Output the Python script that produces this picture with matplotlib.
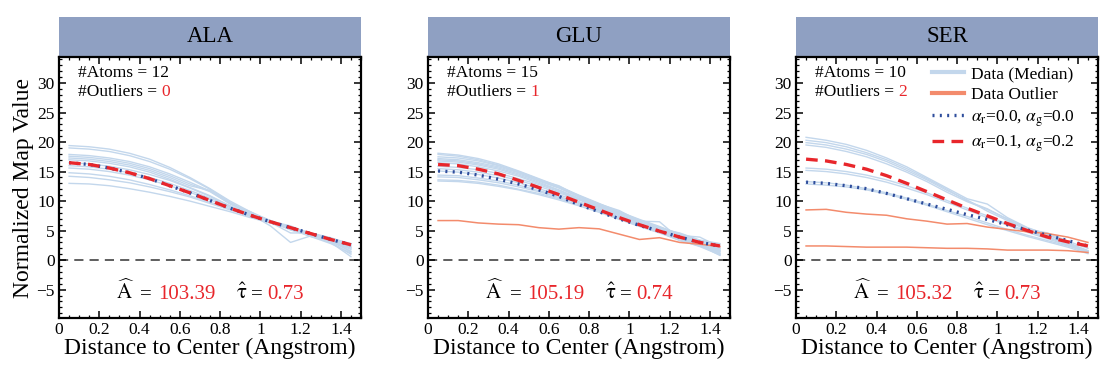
import numpy as np
import matplotlib
matplotlib.use('Agg')
import matplotlib.pyplot as plt
from matplotlib.patches import Rectangle
from matplotlib.offsetbox import TextArea, HPacker, AnchoredOffsetbox, DrawingArea
from matplotlib.ticker import MultipleLocator, FuncFormatter

plt.rcParams['font.family'] = ['Liberation Serif', 'DejaVu Serif']
plt.rcParams['mathtext.fontset'] = 'stix'

# distance to center, same grid for every residue
dist = [0.05, 0.15, 0.25, 0.35, 0.45, 0.55, 0.65, 0.75, 0.85, 0.95, 1.05, 1.15, 1.25, 1.35, 1.45]

residues = ['ALA', 'GLU', 'SER']
n_atoms = [12, 15, 10]
n_outliers = [0, 1, 2]
a_hat = ['103.39', '105.19', '105.32']
tau_hat = ['0.73', '0.74', '0.73']

ala_data = [
	[19.4, 19.2, 18.8, 18.1, 17.1, 15.7, 14.0, 12.1, 10.0, 8.2, 6.7, 5.4, 4.4, 3.3, 1.8],
	[19.0, 18.8, 18.4, 17.7, 16.7, 15.4, 13.8, 12.0, 9.8, 8.0, 6.5, 5.3, 4.3, 3.4, 2.0],
	[17.9, 17.7, 17.3, 16.7, 15.8, 14.6, 13.2, 11.7, 9.6, 7.9, 6.6, 5.6, 4.5, 3.6, 2.4],
	[17.6, 17.4, 17.0, 16.4, 15.5, 14.3, 12.9, 11.6, 9.5, 8.0, 6.7, 5.1, 4.2, 3.3, 1.5],
	[17.3, 17.1, 16.7, 16.1, 15.2, 14.0, 12.6, 11.8, 9.6, 8.2, 6.4, 4.6, 4.6, 3.6, 2.2],
	[17.0, 16.8, 16.4, 15.8, 14.9, 13.7, 12.3, 10.9, 9.2, 7.8, 6.3, 5.6, 4.6, 3.8, 2.6],
	[16.5, 16.3, 15.9, 15.3, 14.5, 13.5, 12.2, 10.8, 9.0, 7.8, 5.8, 3.0, 4.1, 3.0, 1.0],
	[16.0, 15.8, 15.4, 14.8, 14.0, 13.0, 11.8, 10.5, 9.1, 7.8, 6.7, 5.5, 4.0, 3.2, 1.4],
	[15.6, 15.4, 15.0, 14.4, 13.6, 12.6, 11.5, 10.2, 8.9, 7.6, 6.6, 5.8, 4.4, 3.7, 2.8],
	[14.8, 14.6, 14.2, 13.6, 12.8, 11.9, 10.9, 9.8, 8.7, 7.6, 6.6, 5.4, 4.1, 3.0, 0.6],
	[14.2, 14.0, 13.6, 13.1, 12.4, 11.6, 10.7, 9.6, 8.5, 7.4, 6.4, 5.6, 4.5, 3.5, 2.1],
	[13.0, 12.9, 12.6, 12.1, 11.5, 10.8, 10.0, 9.1, 8.2, 7.2, 6.3, 5.2, 4.0, 2.8, 1.2]]
ala_outl = []
ala_fit0 = [16.5, 16.2, 15.6, 14.8, 13.8, 12.6, 11.4, 10.1, 8.8, 7.6, 6.5, 5.5, 4.5, 3.5, 2.6]
ala_fit1 = [16.5, 16.2, 15.6, 14.8, 13.8, 12.6, 11.4, 10.1, 8.8, 7.6, 6.5, 5.5, 4.5, 3.5, 2.6]

glu_data = [
	[18.1, 17.8, 17.2, 16.3, 15.1, 13.8, 12.5, 11.0, 9.6, 8.2, 6.9, 5.7, 4.3, 3.0, 1.6],
	[17.9, 17.6, 17.0, 16.1, 15.0, 13.7, 12.4, 10.9, 9.5, 8.4, 6.6, 6.5, 3.6, 2.9, 1.9],
	[17.5, 17.3, 16.8, 16.0, 14.9, 13.6, 12.6, 10.8, 9.4, 8.0, 6.5, 5.4, 4.2, 3.9, 2.2],
	[17.2, 17.0, 16.5, 15.8, 14.8, 13.5, 12.3, 10.8, 9.5, 8.1, 6.8, 5.6, 4.5, 3.3, 2.5],
	[17.0, 16.8, 16.3, 15.6, 14.6, 13.4, 12.2, 10.7, 9.3, 7.7, 6.4, 5.3, 4.6, 3.4, 2.8],
	[16.8, 16.6, 16.1, 15.4, 14.4, 13.2, 11.9, 10.5, 9.2, 7.9, 6.7, 5.5, 4.3, 3.1, 1.4],
	[16.5, 16.3, 15.8, 15.1, 14.2, 13.0, 11.8, 10.4, 9.1, 7.6, 6.2, 5.2, 4.1, 3.2, 2.0],
	[15.9, 15.7, 15.3, 14.7, 13.8, 12.8, 11.6, 10.3, 9.0, 7.3, 6.0, 5.0, 3.8, 2.6, 1.0],
	[15.5, 15.3, 14.9, 14.3, 13.5, 12.5, 11.4, 10.2, 8.9, 7.5, 6.3, 5.4, 4.0, 2.9, 1.7],
	[15.1, 14.9, 14.5, 13.9, 13.1, 12.1, 11.1, 9.9, 8.7, 7.4, 6.2, 5.1, 3.7, 2.5, 0.8],
	[14.4, 14.3, 13.9, 13.4, 12.7, 11.8, 10.8, 9.7, 8.5, 7.2, 6.0, 4.9, 3.9, 2.8, 1.2],
	[14.1, 14.0, 13.6, 13.1, 12.4, 11.6, 10.6, 9.6, 8.4, 7.0, 5.8, 4.7, 3.3, 2.4, 1.5],
	[13.6, 13.5, 13.2, 12.7, 12.0, 11.3, 10.4, 9.4, 8.3, 7.1, 5.9, 4.8, 3.5, 2.6, 1.1],
	[13.4, 13.3, 13.0, 12.5, 11.9, 11.1, 10.2, 9.2, 8.1, 6.9, 5.7, 4.6, 3.4, 2.3, 0.9]]
glu_outl = [
	[6.7, 6.7, 6.3, 6.1, 6.0, 5.5, 5.25, 5.5, 5.3, 4.4, 3.5, 3.8, 3.0, 2.7, 2.3]]
glu_fit0 = [15.1, 14.9, 14.4, 13.7, 12.9, 11.9, 10.8, 9.4, 8.2, 7.0, 5.9, 4.9, 3.9, 3.0, 2.4]
glu_fit1 = [16.2, 16.0, 15.4, 14.6, 13.5, 12.3, 11.1, 9.8, 8.5, 7.2, 6.0, 4.9, 3.9, 3.0, 2.4]

ser_data = [
	[20.8, 20.3, 19.6, 18.6, 17.3, 15.8, 14.0, 12.2, 10.4, 9.5, 7.2, 5.5, 4.3, 2.8, 1.5],
	[20.3, 19.9, 19.2, 18.2, 17.0, 15.5, 13.8, 12.0, 10.0, 8.7, 6.9, 5.2, 4.6, 3.2, 2.0],
	[19.9, 19.5, 18.8, 17.9, 16.7, 15.2, 13.6, 11.8, 10.2, 8.3, 6.7, 5.0, 4.0, 2.6, 1.2],
	[19.5, 19.1, 18.4, 17.5, 16.3, 14.9, 13.3, 11.5, 9.9, 8.6, 7.0, 5.4, 4.4, 3.0, 1.6],
	[15.6, 15.4, 15.0, 14.4, 13.6, 12.6, 11.4, 10.1, 8.8, 7.5, 6.1, 4.9, 3.8, 2.7, 1.6],
	[15.2, 15.0, 14.6, 14.0, 13.2, 12.2, 11.1, 9.8, 8.5, 7.2, 5.9, 4.7, 3.6, 2.5, 1.3],
	[13.3, 13.1, 12.7, 12.1, 11.4, 10.5, 9.5, 8.4, 7.4, 6.3, 5.2, 4.2, 3.3, 2.4, 1.5],
	[12.9, 12.7, 12.4, 11.9, 11.2, 10.3, 9.3, 8.2, 7.1, 6.0, 5.0, 4.0, 3.1, 2.2, 1.1]]
ser_outl = [
	[8.5, 8.6, 8.1, 7.8, 7.6, 7.0, 6.6, 6.1, 6.2, 5.6, 5.2, 4.8, 4.5, 3.9, 3.0],
	[2.4, 2.4, 2.3, 2.2, 2.2, 2.2, 2.1, 2.0, 2.0, 1.9, 1.7, 1.7, 1.7, 1.6, 1.3]]
ser_fit0 = [13.2, 13.0, 12.6, 12.1, 11.3, 10.4, 9.5, 8.6, 7.7, 6.9, 6.0, 5.1, 4.2, 3.3, 2.4]
ser_fit1 = [17.1, 16.8, 16.2, 15.4, 14.3, 13.0, 11.6, 10.2, 8.8, 7.5, 6.2, 5.0, 3.9, 3.1, 2.4]

all_data = [ala_data, glu_data, ser_data]
all_outl = [ala_outl, glu_outl, ser_outl]
all_fit0 = [ala_fit0, glu_fit0, ser_fit0]
all_fit1 = [ala_fit1, glu_fit1, ser_fit1]

c_data = '#c3d7ec'
c_outl = '#f38b6c'
c_fit0 = '#2e4d9c'
c_fit1 = '#e8262b'
c_head = '#8fa0c2'

fig = plt.figure(figsize=(11.15, 3.84), dpi=100)
lefts = [59, 428, 796]
W, H = 1115.0, 384.0

def colored_line(ax, parts, xy, loc, fs):
	# parts: list of (text, color) or a number meaning a blank gap in pixels
	kids = []
	for p in parts:
		if isinstance(p, (int, float)):
			kids.append(DrawingArea(p, 1, 0, 0))
		else:
			kids.append(TextArea(p[0], textprops=dict(fontsize=fs, color=p[1])))
	box = HPacker(children=kids, pad=0, sep=0, align='baseline')
	ab = AnchoredOffsetbox(loc=loc, child=box, frameon=False, pad=0, borderpad=0,
						   bbox_to_anchor=xy, bbox_transform=ax.transAxes)
	ax.add_artist(ab)

for i in range(3):
	ax = fig.add_axes([lefts[i]/W, (H-318)/H, 302/W, 261/H])
	for row in all_data[i]:
		ax.plot(dist, row, color=c_data, lw=1.0, zorder=2)
	for row in all_outl[i]:
		ax.plot(dist, row, color=c_outl, lw=1.1, zorder=3)
	ax.plot(dist, all_fit0[i], color=c_fit0, lw=2.4, linestyle=(0, (0.6, 1.6)), zorder=4)
	ax.plot(dist, all_fit1[i], color=c_fit1, lw=2.4, linestyle=(0, (3.5, 2.2)), zorder=5)
	ax.axhline(0, color='#333333', lw=1.1, linestyle=(0, (6, 4)), zorder=1)

	ax.set_xlim(0, 1.5)
	ax.set_ylim(-9.8, 34.4)
	ax.xaxis.set_major_locator(MultipleLocator(0.2))
	ax.xaxis.set_minor_locator(MultipleLocator(0.05))
	ax.yaxis.set_major_locator(MultipleLocator(5))
	ax.yaxis.set_minor_locator(MultipleLocator(1))
	ax.xaxis.set_major_formatter(FuncFormatter(lambda v, p: '%g' % round(v, 2)))
	ax.yaxis.set_major_formatter(FuncFormatter(lambda v, p: ('\u2212%g' % -v) if v < 0 else '%g' % v))
	ax.tick_params(which='both', direction='in', top=True, right=True, labelsize=12.5, pad=3)
	ax.tick_params(which='major', length=5, width=1.1)
	ax.tick_params(which='minor', length=2.5, width=0.9)
	for s in ax.spines.values():
		s.set_linewidth(1.6)
	ax.set_xlabel('Distance to Center (Angstrom)', fontsize=17, labelpad=0)
	if i == 0:
		ax.set_ylabel('Normalized Map Value', fontsize=17, labelpad=2)

	# header band
	ax.add_patch(Rectangle((0, 1), 1, 40/261, transform=ax.transAxes, facecolor=c_head,
							edgecolor='none', clip_on=False, zorder=0))
	ax.text(0.5, 1 + 20/261, residues[i], transform=ax.transAxes, ha='center', va='center',
			fontsize=16.5)

	# atom counts
	ax.text(0.063, 0.94, '#Atoms = %d' % n_atoms[i], transform=ax.transAxes, ha='left',
			va='center', fontsize=12.5)
	colored_line(ax, [('#Outliers = ', 'black'), (str(n_outliers[i]), c_fit1)],
				 (0.063, 0.866), 'center left', 12.5)

	# fitted parameters
	colored_line(ax, [(r'$\widehat{\mathrm{A}}$', 'black'), 4, ('=', 'black'), 4,
					  (a_hat[i], c_fit1), 15, (r'$\hat{\mathrm{\tau}}$', 'black'), 3,
					  ('=', 'black'), 3, (tau_hat[i], c_fit1)],
				 (0.5, 0.10), 'center', 15)

	if i == 2:
		h = [plt.Line2D([], [], color=c_data, lw=3),
			 plt.Line2D([], [], color=c_outl, lw=3),
			 plt.Line2D([], [], color=c_fit0, lw=2.4, linestyle=(0, (0.6, 1.6))),
			 plt.Line2D([], [], color=c_fit1, lw=2.4, linestyle=(0, (3.5, 2.2)))]
		lab = ['Data (Median)', 'Data Outlier',
			   r'$\alpha_{\mathrm{r}}$=0.0, $\alpha_{\mathrm{g}}$=0.0',
			   r'$\alpha_{\mathrm{r}}$=0.1, $\alpha_{\mathrm{g}}$=0.2']
		ax.legend(h, lab, loc='upper right', bbox_to_anchor=(0.965, 1.012), frameon=False,
				  fontsize=12.5, handlelength=1.8, handletextpad=0.45, labelspacing=0.28,
				  borderaxespad=0.3)

fig.savefig('out.png', dpi=100)
